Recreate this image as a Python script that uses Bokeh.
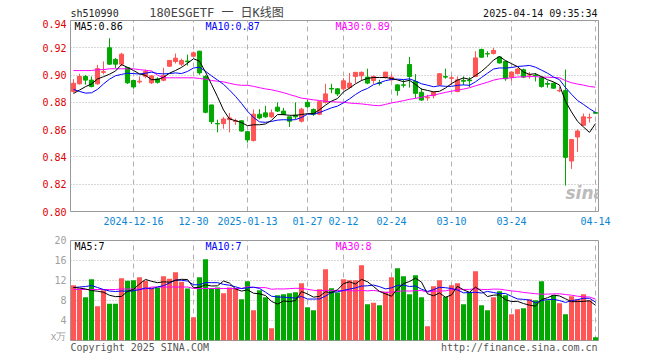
import pandas as pd
import numpy as np
from bokeh.plotting import figure
from bokeh.models import ColumnDataSource, FixedTicker, Label, Range1d
from bokeh.layouts import column
from bokeh.embed import file_html
from bokeh.resources import INLINE

# ---------------- data ----------------
holidays = ["2025-01-01", "2025-01-28", "2025-01-29", "2025-01-30", "2025-01-31",
            "2025-02-03", "2025-02-04", "2025-04-04"]
dates = [d for d in pd.bdate_range("2024-12-02", "2025-04-14").strftime("%Y-%m-%d")
         if d not in holidays]

tick_dates = ["2024-12-16", "2024-12-30", "2025-01-13", "2025-01-27", "2025-02-12",
              "2025-02-24", "2025-03-10", "2025-03-24", "2025-04-14"]
tick_labels = ["2024-12-16", "12-30", "2025-01-13", "01-27", "02-12",
               "02-24", "03-10", "03-24", "04-14"]

opens = [0.888, 0.8936, 0.899, 0.8963, 0.8936, 0.902, 0.920, 0.9115, 0.908, 0.9055,
         0.896, 0.895, 0.8991, 0.8943, 0.8972, 0.8962, 0.9065, 0.9099, 0.908, 0.9103,
         0.9138, 0.9175, 0.899, 0.8781, 0.8645, 0.8644, 0.8673, 0.866, 0.8665, 0.8585,
         0.852, 0.8713, 0.8723, 0.8694, 0.8765, 0.8736, 0.8694, 0.8706, 0.8662, 0.880,
         0.8748, 0.8713, 0.880, 0.8902, 0.8899, 0.8899, 0.8909, 0.899, 0.8995, 0.8985,
         0.896, 0.8943, 0.8985, 0.8965, 0.8928, 0.8928, 0.9077, 0.8953, 0.8874, 0.8833,
         0.8849, 0.8928, 0.899, 0.8976, 0.8879, 0.8961, 0.8963, 0.899, 0.9188, 0.9157,
         0.9158, 0.9133, 0.9101, 0.8985, 0.901, 0.9039, 0.900, 0.8997, 0.8985, 0.8938,
         0.894, 0.8884, 0.8886, 0.837, 0.8546, 0.8632, 0.8686, 0.8725]
highs = [0.897, 0.901, 0.900, 0.899, 0.9075, 0.910, 0.927, 0.9125, 0.9163, 0.906,
         0.8967, 0.899, 0.904, 0.900, 0.8984, 0.9053, 0.911, 0.9158, 0.912, 0.915,
         0.9173, 0.9178, 0.900, 0.8781, 0.8673, 0.8693, 0.8722, 0.868, 0.8668, 0.8588,
         0.8748, 0.875, 0.8775, 0.8748, 0.880, 0.876, 0.8694, 0.880, 0.876, 0.8817,
         0.8755, 0.881, 0.8936, 0.8936, 0.8904, 0.8978, 0.9015, 0.9022, 0.9027, 0.9047,
         0.8997, 0.8965, 0.9022, 0.9007, 0.8933, 0.8965, 0.9133, 0.9007, 0.8904, 0.8855,
         0.8879, 0.9015, 0.9047, 0.8997, 0.899, 0.899, 0.8985, 0.9175, 0.9193, 0.9175,
         0.920, 0.9138, 0.9106, 0.9027, 0.9052, 0.9047, 0.9022, 0.9015, 0.899, 0.8958,
         0.8945, 0.8911, 0.904, 0.8528, 0.8602, 0.8718, 0.8718, 0.8725]
lows = [0.887, 0.893, 0.893, 0.891, 0.893, 0.9005, 0.9075, 0.905, 0.9065, 0.8935,
        0.8899, 0.8938, 0.8977, 0.8935, 0.8938, 0.8955, 0.906, 0.9085, 0.9065, 0.907,
        0.9134, 0.9003, 0.872, 0.8641, 0.858, 0.8607, 0.858, 0.8635, 0.8585, 0.8505,
        0.8513, 0.8676, 0.8686, 0.8686, 0.873, 0.8706, 0.862, 0.8676, 0.8652, 0.876,
        0.8701, 0.8706, 0.8792, 0.8867, 0.8847, 0.8891, 0.8899, 0.8941, 0.896, 0.8933,
        0.8936, 0.8923, 0.8973, 0.896, 0.885, 0.8908, 0.8908, 0.883, 0.881, 0.8812,
        0.8829, 0.8923, 0.8973, 0.8928, 0.8874, 0.8928, 0.8911, 0.8985, 0.9126, 0.9131,
        0.9151, 0.9084, 0.8958, 0.8958, 0.9005, 0.8978, 0.8973, 0.8953, 0.8908, 0.8908,
        0.8899, 0.8874, 0.819, 0.8312, 0.8437, 0.8627, 0.8652, 0.8718]
closes = [0.894, 0.899, 0.8963, 0.8916, 0.9047, 0.9025, 0.908, 0.908, 0.9153, 0.8943,
          0.8913, 0.8955, 0.9026, 0.8994, 0.8947, 0.8996, 0.9107, 0.9124, 0.9107, 0.9098,
          0.9163, 0.9016, 0.8727, 0.8658, 0.8642, 0.8678, 0.8686, 0.8665, 0.859, 0.8525,
          0.8713, 0.8686, 0.8694, 0.8723, 0.8736, 0.8711, 0.8662, 0.8694, 0.875, 0.8768,
          0.8713, 0.8805, 0.8862, 0.8898, 0.8862, 0.8958, 0.8941, 0.902, 0.902, 0.8941,
          0.899, 0.8939, 0.9022, 0.8985, 0.8886, 0.8926, 0.899, 0.8866, 0.8817, 0.8838,
          0.8874, 0.901, 0.8985, 0.898, 0.8965, 0.8955, 0.8958, 0.9126, 0.9131, 0.9155,
          0.918, 0.9089, 0.8973, 0.9022, 0.9044, 0.8985, 0.9002, 0.8995, 0.8916, 0.8933,
          0.8904, 0.8887, 0.8397, 0.8528, 0.859, 0.8694, 0.869, 0.872]
volumes = [11.07, 10.4, 8.67, 12.27, 6.87, 10.07, 7.33, 7.33, 12.47, 11.93,
           12.07, 12.67, 11.93, 10.6, 10.6, 12.87, 12.33, 13.67, 11.73, 10.4,
           4.67, 12.67, 16.27, 10.47, 10.6, 9.47, 10.6, 10.47, 8.27, 11.87,
           6.07, 10.07, 8.67, 2.47, 9.07, 9.27, 9.47, 9.67, 11.47, 6.67,
           6.07, 10.27, 14.27, 10.47, 9.6, 12.27, 12.07, 12.07, 15.07, 7.27,
           7.53, 7.07, 9.73, 12.67, 14.47, 12.87, 9.27, 13.07, 8.67, 2.87,
           10.87, 12.07, 8.73, 11.07, 11.47, 7.27, 9.67, 13.87, 7.07, 6.07,
           8.67, 9.87, 9.07, 5.27, 6.27, 6.47, 8.27, 8.07, 11.87, 8.07,
           9.07, 7.47, 5.27, 8.87, 8.27, 9.27, 8.07, 0.67]

# moving-average values before the window could be computed
ma5_head = [0.8865, 0.889, 0.8915, 0.8935]
ma10_head = [0.8895, 0.888, 0.8868, 0.887, 0.8895, 0.8935, 0.897, 0.8995, 0.9005]
ma30_head = [0.9033, 0.9033, 0.9033, 0.9033, 0.904, 0.904, 0.9046, 0.9046, 0.9046, 0.9046,
             0.9046, 0.904, 0.9035, 0.903, 0.900, 0.898, 0.898, 0.898, 0.898, 0.898,
             0.898, 0.8975, 0.897, 0.896, 0.8955, 0.895, 0.894, 0.893, 0.8925]
vma5_head = [10.6, 10.5, 10.3, 10.0]
vma10_head = [10.6, 10.7, 10.8, 11.0, 10.6, 10.2, 9.9, 9.8, 9.9]
vma30_head = [10.2, 10.2, 10.2, 10.2, 10.2, 10.2, 10.2, 10.2, 10.3, 10.3,
              10.3, 10.3, 10.3, 10.7, 10.7, 10.7, 10.7, 10.7, 10.7, 10.7,
              10.4, 10.4, 10.4, 10.4, 10.4, 10.4, 10.4, 10.4, 10.4]

price_ticks = [0.80, 0.82, 0.84, 0.86, 0.88, 0.90, 0.92, 0.94]
vol_ticks = [0, 4, 8, 12, 16, 20]

# ---------------- derived ----------------
n = len(dates)
idx = list(range(n))


def ma(values, w, head):
    s = pd.Series(values).rolling(w).mean().tolist()
    return list(head) + s[len(head):]


RED = "#ff5555"
GREEN = "#00a800"
colors = [RED if c >= o else GREEN for o, c in zip(opens, closes)]
src = ColumnDataSource(dict(
    x=idx, o=opens, h=highs, l=lows, c=closes, v=volumes, color=colors,
    top=[max(o, c) for o, c in zip(opens, closes)],
    bot=[min(o, c) for o, c in zip(opens, closes)],
    ma5=ma(closes, 5, ma5_head), ma10=ma(closes, 10, ma10_head),
    ma30=ma(closes, 30, ma30_head),
    vma5=ma(volumes, 5, vma5_head), vma10=ma(volumes, 10, vma10_head),
    vma30=ma(volumes, 30, vma30_head),
))

tick_idx = [dates.index(d) for d in tick_dates]
MONO = "DejaVu Sans Mono"
GRID = "#b0b0b0"
W = 660
LEFT, RIGHT = 70, 62
FRAME_W = W - LEFT - RIGHT

xr = Range1d(-0.5, n - 0.5)


def px(xpix):
    """pixel column of the page -> bar-index coordinate used by all panels"""
    return (xpix - LEFT) / FRAME_W * n - 0.5


def strip(height):
    f = figure(width=W, height=height, x_range=xr, y_range=Range1d(height, 0),
               output_backend="svg", toolbar_location=None,
               x_axis_location=None, y_axis_location=None,
               min_border_left=LEFT, min_border_right=RIGHT,
               min_border_top=0, min_border_bottom=0)
    f.grid.visible = False
    f.outline_line_color = None
    f.background_fill_color = "white"
    f.border_fill_color = "white"
    return f


# ---------------- header ----------------
hdr = strip(19)
hdr.add_layout(Label(x=px(70), y=13, text="sh510990", text_font=MONO,
                     text_font_size="10px", text_color="#222222", text_baseline="middle"))
hdr.add_layout(Label(x=px(216), y=12.5, text="180ESGETF 一 日K线图",
                     text_font="DejaVu Sans Mono, Noto Sans CJK SC", text_font_size="12px",
                     text_color="#444444", text_align="center", text_baseline="middle"))
hdr.add_layout(Label(x=px(597), y=12.7, text="2025-04-14 09:35:34", text_font=MONO,
                     text_font_size="10px", text_color="#111111", text_align="right",
                     text_baseline="middle"))

# ---------------- price panel ----------------
p1 = figure(width=W, height=212, x_range=xr, y_range=Range1d(0.80, 0.94),
            output_backend="svg", toolbar_location=None,
            min_border_left=LEFT, min_border_right=RIGHT, min_border_top=1, min_border_bottom=20)
p1.outline_line_color = "#999999"
p1.background_fill_color = "white"
p1.border_fill_color = "white"

p1.xaxis.ticker = FixedTicker(ticks=tick_idx)
p1.xaxis.major_label_overrides = {i: t for i, t in zip(tick_idx, tick_labels)}
p1.yaxis.ticker = FixedTicker(ticks=price_ticks)
p1.yaxis.major_label_overrides = {t: f"{t:.2f}" for t in price_ticks}
for ax in (p1.xaxis[0], p1.yaxis[0]):
    ax.axis_line_color = None
    ax.major_tick_line_color = None
    ax.minor_tick_line_color = None
    ax.major_tick_out = 0
    ax.major_tick_in = 0
    ax.major_label_text_font = MONO
    ax.major_label_text_font_size = "10px"
p1.xaxis.major_label_standoff = 5
p1.yaxis.major_label_standoff = 4
p1.xaxis.major_label_text_color = "#0a86d4"
p1.yaxis.major_label_text_color = "#e00000"
p1.xgrid.grid_line_color = GRID
p1.xgrid.grid_line_dash = "5 4"
p1.ygrid.grid_line_color = GRID
p1.ygrid.grid_line_dash = "1 2"

p1.segment(x0="x", y0="l", x1="x", y1="h", color="color", line_width=1, source=src)
p1.vbar(x="x", width=0.68, top="top", bottom="bot", fill_color="color",
        line_color="color", line_width=1, source=src)
p1.line("x", "ma30", color="#ff00ff", line_width=1, source=src)
p1.line("x", "ma10", color="#0000ff", line_width=1, source=src)
p1.line("x", "ma5", color="black", line_width=1, source=src)

p1.add_layout(Label(x=px(74), y=0.9357, text="MA5:0.86", text_font=MONO,
                    text_font_size="10px", text_color="#000000", text_baseline="middle"))
p1.add_layout(Label(x=px(205), y=0.9357, text="MA10:0.87", text_font=MONO,
                    text_font_size="10px", text_color="#0000ff", text_baseline="middle"))
p1.add_layout(Label(x=px(335), y=0.9357, text="MA30:0.89", text_font=MONO,
                    text_font_size="10px", text_color="#ff00ff", text_baseline="middle"))
p1.add_layout(Label(x=px(565), y=0.8135, text="sina", text_font="DejaVu Sans",
                    text_font_size="17px", text_font_style="bold italic",
                    text_color="#bbbbbb", text_baseline="middle"))

# ---------------- volume panel ----------------
p2 = figure(width=W, height=110, x_range=xr, y_range=Range1d(0, 20),
            output_backend="svg", toolbar_location=None, x_axis_location=None,
            min_border_left=LEFT, min_border_right=RIGHT, min_border_top=9, min_border_bottom=1)
p2.outline_line_color = "#999999"
p2.background_fill_color = "white"
p2.border_fill_color = "white"
p2.yaxis.ticker = FixedTicker(ticks=vol_ticks)
p2.yaxis.major_label_overrides = {0: "x万"}
ax = p2.yaxis[0]
ax.axis_line_color = None
ax.major_tick_line_color = None
ax.minor_tick_line_color = None
ax.major_tick_out = 0
ax.major_tick_in = 0
ax.major_label_text_font = MONO
ax.major_label_text_font_size = "10px"
ax.major_label_text_color = "#a0a0a0"
ax.major_label_standoff = 4
p2.xgrid.ticker = FixedTicker(ticks=tick_idx)
p2.xgrid.grid_line_color = GRID
p2.xgrid.grid_line_dash = "5 4"
p2.ygrid.grid_line_color = GRID
p2.ygrid.grid_line_dash = "1 2"

p2.vbar(x="x", width=0.84, top="v", bottom=0, fill_color="color", line_color=None, source=src)
p2.line("x", "vma30", color="#ff00ff", line_width=1, source=src)
p2.line("x", "vma10", color="#0000ff", line_width=1, source=src)
p2.line("x", "vma5", color="black", line_width=1, source=src)

p2.add_layout(Label(x=px(74), y=18.85, text="MA5:7", text_font=MONO,
                    text_font_size="10px", text_color="#000000", text_baseline="middle"))
p2.add_layout(Label(x=px(205), y=18.85, text="MA10:7", text_font=MONO,
                    text_font_size="10px", text_color="#0000ff", text_baseline="middle"))
p2.add_layout(Label(x=px(335), y=18.85, text="MA30:8", text_font=MONO,
                    text_font_size="10px", text_color="#ff00ff", text_baseline="middle"))

# ---------------- footer ----------------
ftr = strip(17)
ftr.add_layout(Label(x=px(70), y=6, text="Copyright 2025 SINA.COM", text_font=MONO,
                     text_font_size="10px", text_color="#555555", text_baseline="middle"))
ftr.add_layout(Label(x=px(597), y=6, text="http://finance.sina.com.cn", text_font=MONO,
                     text_font_size="10px", text_color="#555555", text_align="right",
                     text_baseline="middle"))

layout = column(hdr, p1, p2, ftr, spacing=0)
open("out.html", "w").write(file_html(layout, INLINE))
